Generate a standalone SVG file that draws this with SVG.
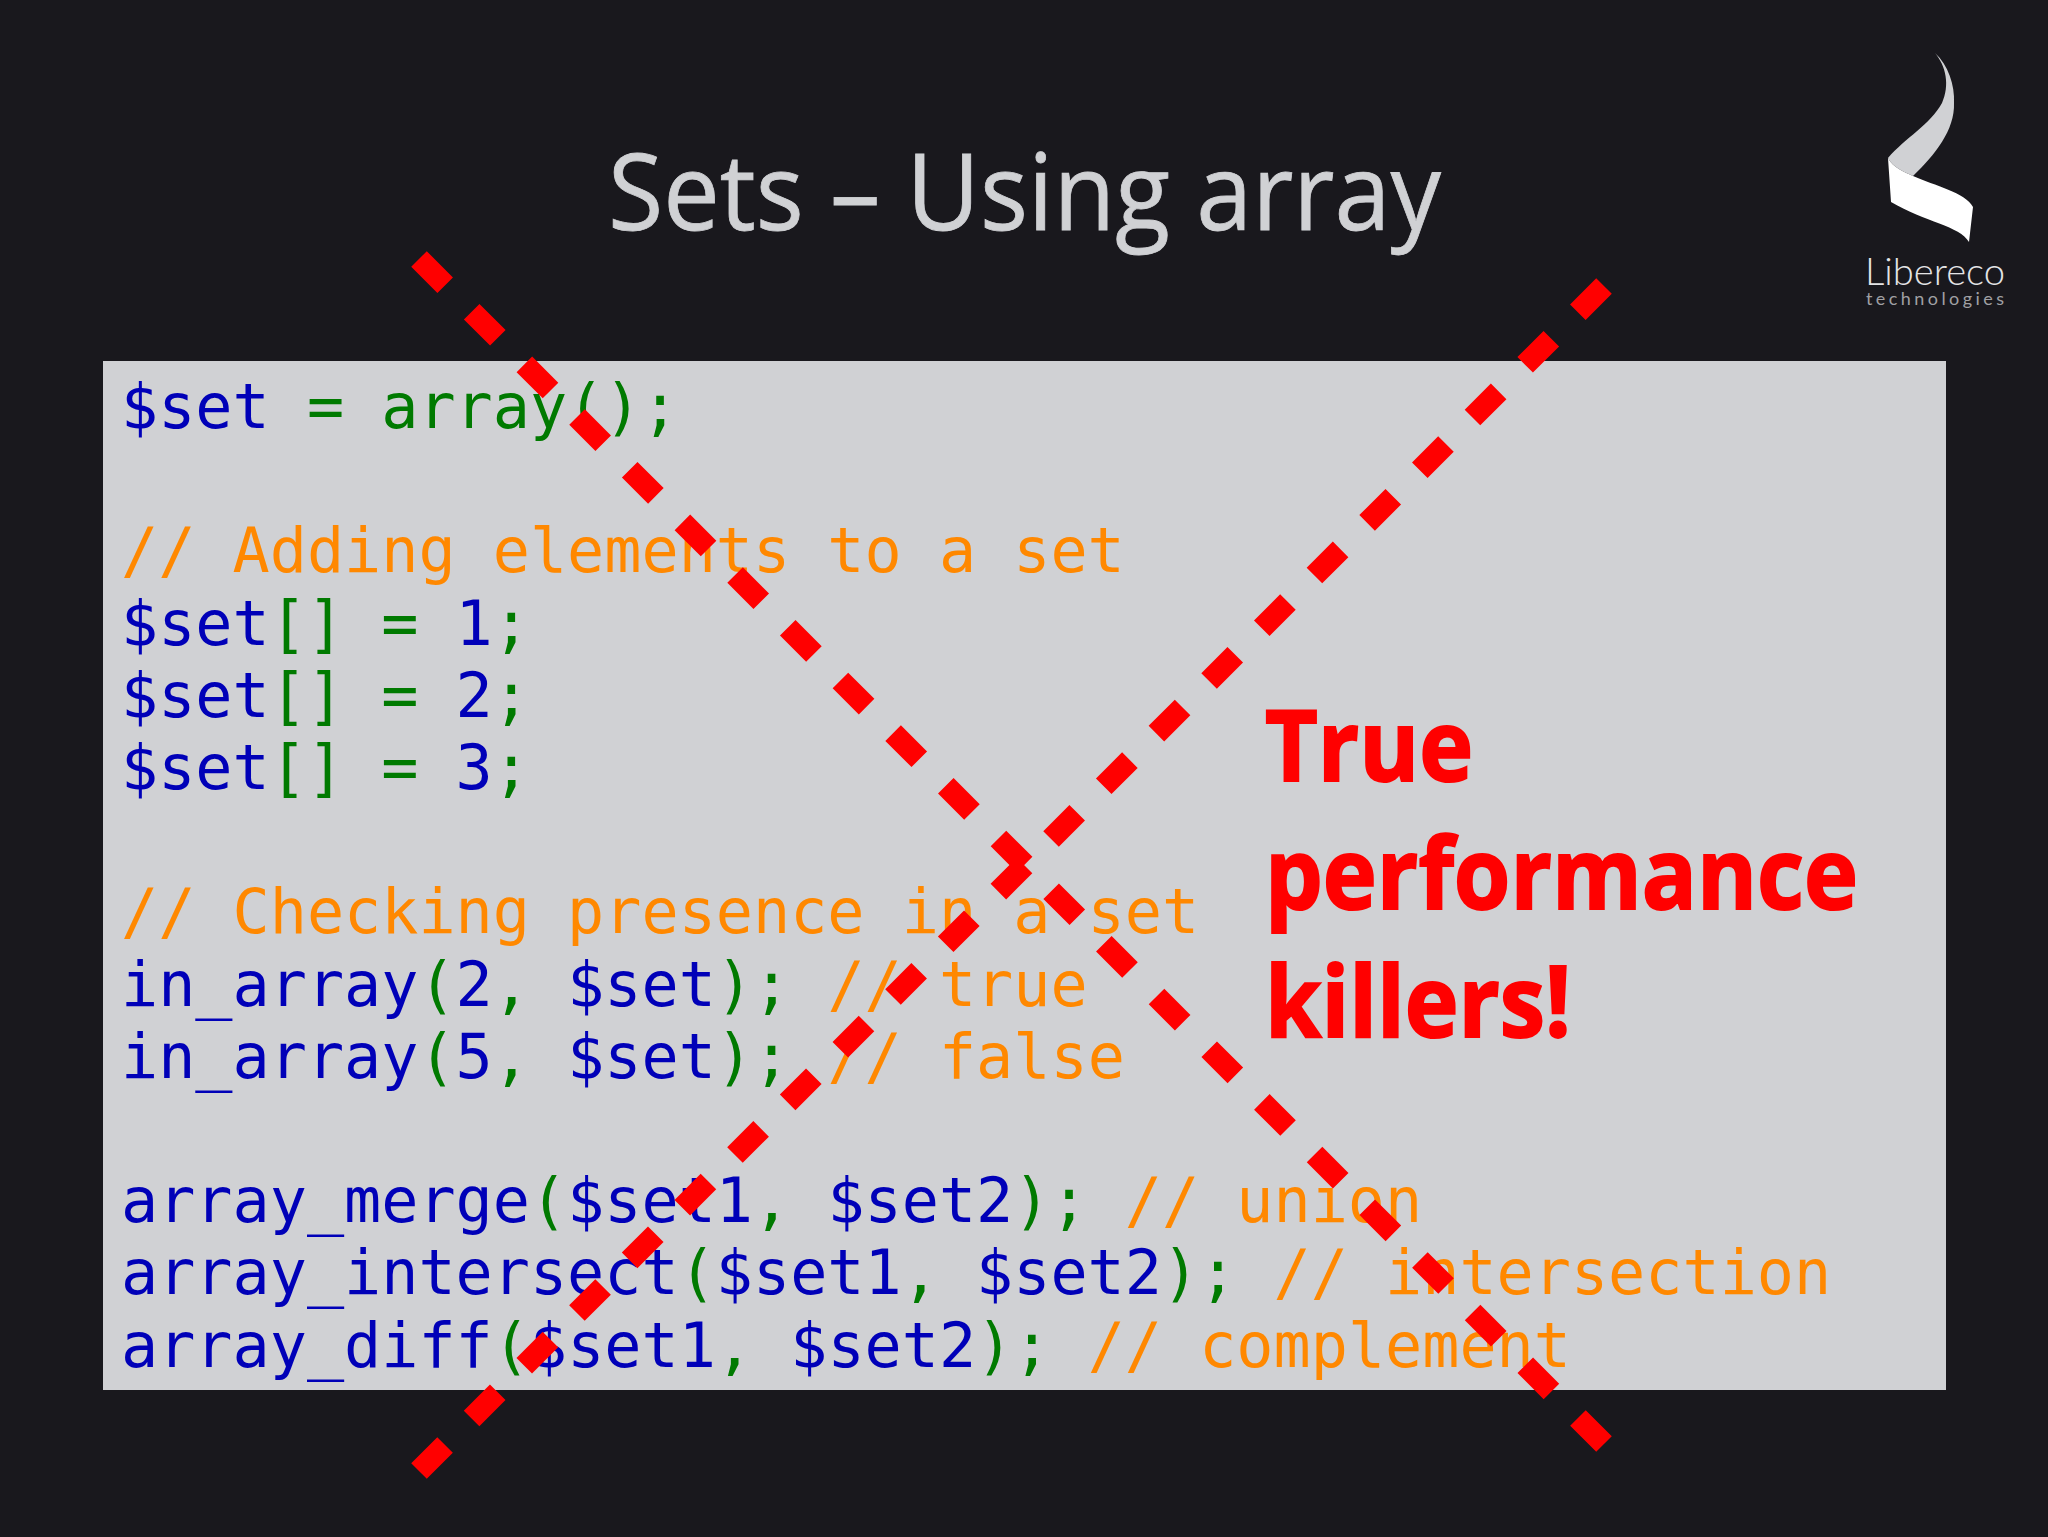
<svg xmlns="http://www.w3.org/2000/svg" width="2048" height="1537" viewBox="0 0 2048 1537">
<style>
.code{font-family:"DejaVu Sans Mono","Liberation Mono",monospace;font-size:61.75px;white-space:pre;fill:#0000b8}
.g{fill:#007a00}
.o{fill:#ff8800}
.title{font-family:"Open Sans","Noto Sans",sans-serif;font-size:107px;fill:#d0d1d4;stroke:#d0d1d4;stroke-width:.8px}
.red{font-family:"Open Sans","Noto Sans",sans-serif;font-weight:700;font-size:98px;fill:#ff0000;stroke:#ff0000;stroke-width:2px}
.dash{stroke:#ff0000;stroke-width:22;stroke-dasharray:37 37.5;fill:none}
</style>
<rect width="2048" height="1537" fill="#19181d"/>
<text class="title" x="608" y="230" textLength="833" lengthAdjust="spacingAndGlyphs">Sets – Using array</text>
<g id="logo">
<path d="M1935 53C1946 66 1950 85 1942 103C1930 125 1905 138 1888 158C1893 168 1905 172 1913 176C1935 155 1955 130 1954 103C1955 85 1948 65 1935 53Z" fill="#d0d1d4"/>
<path d="M1888 158C1893 168 1905 172 1913 176C1935 186 1965 192 1973 207L1969 242C1960 226 1925 222 1891 202Z" fill="#ffffff"/>
<text x="1865" y="285" textLength="140" lengthAdjust="spacingAndGlyphs" font-family="Lato,'Noto Sans',sans-serif" font-weight="300" font-size="37" fill="#e4e4e6">Libereco</text>
<text x="1866" y="305" textLength="138" font-family="Lato,'Noto Sans',sans-serif" font-size="18" fill="#a0a0a4">technologies</text>
</g>
<rect x="103" y="361" width="1843" height="1029" fill="#d0d1d4"/>
<g id="code">
<text class="code" x="121" y="428">$set<tspan class="g"> = array();</tspan></text>
<text class="code o" x="121" y="572.4">// Adding elements to a set</text>
<text class="code" x="121" y="644.6">$set<tspan class="g">[] = </tspan>1<tspan class="g">;</tspan></text>
<text class="code" x="121" y="716.8">$set<tspan class="g">[] = </tspan>2<tspan class="g">;</tspan></text>
<text class="code" x="121" y="789">$set<tspan class="g">[] = </tspan>3<tspan class="g">;</tspan></text>
<text class="code o" x="121" y="933.4">// Checking presence in a set</text>
<text class="code" x="121" y="1005.6">in_array<tspan class="g">(</tspan>2<tspan class="g">, </tspan>$set<tspan class="g">); </tspan><tspan class="o">// true</tspan></text>
<text class="code" x="121" y="1077.8">in_array<tspan class="g">(</tspan>5<tspan class="g">, </tspan>$set<tspan class="g">); </tspan><tspan class="o">// false</tspan></text>
<text class="code" x="121" y="1222.2">array_merge<tspan class="g">(</tspan>$set1<tspan class="g">, </tspan>$set2<tspan class="g">); </tspan><tspan class="o">// union</tspan></text>
<text class="code" x="121" y="1294.4">array_intersect<tspan class="g">(</tspan>$set1<tspan class="g">, </tspan>$set2<tspan class="g">); </tspan><tspan class="o">// intersection</tspan></text>
<text class="code" x="121" y="1366.6">array_diff<tspan class="g">(</tspan>$set1<tspan class="g">, </tspan>$set2<tspan class="g">); </tspan><tspan class="o">// complement</tspan></text>
</g>
<g id="note">
<text class="red" x="1265" y="781" textLength="208" lengthAdjust="spacingAndGlyphs">True</text>
<text class="red" x="1265" y="909" textLength="593" lengthAdjust="spacingAndGlyphs">performance</text>
<text class="red" x="1265" y="1037" textLength="306" lengthAdjust="spacingAndGlyphs">killers!</text>
</g>
<g id="connectors">
<line class="dash" x1="419" y1="259" x2="1604" y2="1444"/>
<line class="dash" x1="1604" y1="286" x2="419" y2="1471"/>
</g>
</svg>
